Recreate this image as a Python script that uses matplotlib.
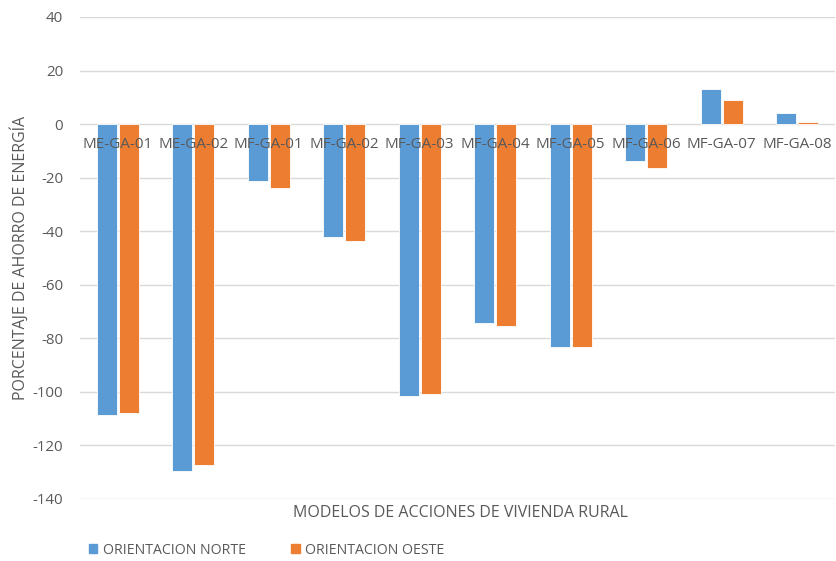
import matplotlib
matplotlib.use("Agg")
import matplotlib.pyplot as plt
import matplotlib.transforms as mtransforms
from matplotlib.patches import Patch
import numpy as np

models = ["ME-GA-01", "ME-GA-02", "MF-GA-01", "MF-GA-02", "MF-GA-03",
          "MF-GA-04", "MF-GA-05", "MF-GA-06", "MF-GA-07", "MF-GA-08"]
norte = [-108.8, -129.5, -21.3, -42.2, -101.5, -74.3, -83.2, -13.8, 13.1, 4.1]
oeste = [-107.8, -127.2, -23.9, -43.7, -100.7, -75.4, -83.2, -16.4, 9.0, 0.8]

BLUE = "#5B9BD5"
ORANGE = "#ED7D31"
GREY = "#595959"

plt.rcParams["font.family"] = ["Open Sans", "DejaVu Sans"]
plt.rcParams["axes.unicode_minus"] = False

fig = plt.figure(figsize=(8.37, 5.61), dpi=100)
ax = fig.add_axes([80 / 837, 62 / 561, 755 / 837, 482 / 561])

x = np.arange(len(models))
w = 0.265
ax.bar(x - 0.145, norte, w, color=BLUE, edgecolor="white", linewidth=0.6, zorder=2)
ax.bar(x + 0.145, oeste, w, color=ORANGE, edgecolor="white", linewidth=0.6, zorder=2)

ax.set_xlim(-0.5, len(models) - 0.5)
ax.set_ylim(-140, 40)
ax.set_yticks(np.arange(-140, 41, 20))
ax.yaxis.grid(True, color="#D9D9D9", linewidth=1)
ax.set_axisbelow(True)
ax.tick_params(axis="y", length=0, pad=12, labelsize=10.8, labelcolor=GREY)
ax.set_xticks([])
for s in ax.spines.values():
    s.set_visible(False)

# category labels sit just under the zero line, over the bars
trans = mtransforms.offset_copy(ax.transData, fig=fig, x=0, y=-9.5, units="points")
for xi, lab in zip(x, models):
    ax.text(xi, 0, lab, transform=trans, ha="center", va="top",
            fontsize=11, color=GREY, zorder=5)

ax.set_ylabel("PORCENTAJE DE AHORRO DE ENERGÍA", fontsize=11.5, color=GREY)
ax.yaxis.set_label_coords(-51 / 755, 0.5)
fig.text(460 / 837, 1 - 513 / 561, "MODELOS DE ACCIONES DE VIVIENDA RURAL",
         ha="center", va="center", fontsize=11.5, color=GREY)

handles = [Patch(color=BLUE, label="ORIENTACION NORTE"),
           Patch(color=ORANGE, label="ORIENTACION OESTE")]
fig.legend(handles=handles, loc="center left", bbox_to_anchor=(76 / 837, 1 - 550 / 561),
           ncol=2, frameon=False, fontsize=10.2, labelcolor=GREY,
           handlelength=0.6, handleheight=0.6, handletextpad=0.4, columnspacing=3.2)

fig.savefig("out.png", dpi=100)
